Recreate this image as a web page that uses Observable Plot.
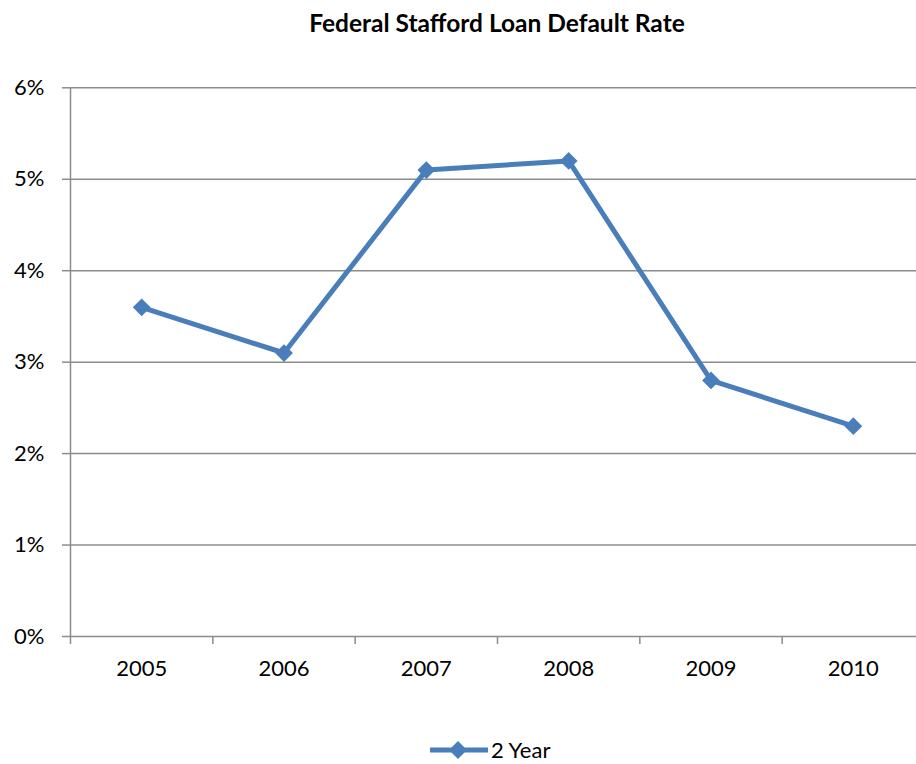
<!DOCTYPE html>
<html>
<head>
<meta charset="utf-8">
<script src="https://cdn.jsdelivr.net/npm/d3@7"></script>
<script src="https://cdn.jsdelivr.net/npm/@observablehq/plot@0.6"></script>
<style>
  html, body { margin: 0; padding: 0; background: #fff; overflow: hidden; }
  #wrap { position: relative; width: 916px; height: 764px; font-family: Lato, "Open Sans", sans-serif; overflow: hidden; }
  #title { position: absolute; left: 297px; top: 0; width: 400px; height: 46px; line-height: 46px; text-align: center; font-weight: bold; font-size: 24.5px; color: #000; white-space: nowrap; }
  #chart { position: absolute; left: 0; top: 46px; }
  #legend { position: absolute; left: 430px; top: 739px; height: 22px; line-height: 22px; display: flex; align-items: center; font-size: 22px; color: #000; }
  #legend svg { margin-right: 3px; }
</style>
</head>
<body>
<div id="wrap">
  <div id="title">Federal Stafford Loan Default Rate</div>
  <div id="chart"></div>
  <div id="legend"></div>
</div>
<script>
const years = [2005, 2006, 2007, 2008, 2009, 2010];
const rates = [0.036, 0.031, 0.051, 0.052, 0.028, 0.023];
const yTicks = [0, 0.01, 0.02, 0.03, 0.04, 0.05, 0.06];
const xBoundaries = [2004.5, 2005.5, 2006.5, 2007.5, 2008.5, 2009.5, 2010.5];
const seriesName = "2 Year";
const lineColor = "#4A7EBB";
const gridColor = "#8c8c8c";

const data = years.map((year, i) => ({year, rate: rates[i]}));

const chart = Plot.plot({
  width: 916,
  height: 660,
  marginTop: 41,
  marginBottom: 70,
  marginLeft: 70,
  marginRight: 0,
  x: {domain: [2004.5, 2010.5], range: [70, 924]},
  y: {domain: [0, 0.06], range: [590, 41.3]},
  style: {fontFamily: "Lato, 'Open Sans', sans-serif", fontSize: "22px", color: "#000", background: "#fff", overflow: "visible"},
  marks: [
    Plot.ruleY(yTicks, {stroke: gridColor, strokeWidth: 1.5}),
    Plot.ruleX([2004.5], {stroke: gridColor, strokeWidth: 1.5}),
    Plot.axisY(yTicks, {tickSize: 8, tickPadding: 18, tickFormat: d3.format(".0%"), stroke: gridColor, strokeWidth: 1.5, fill: "#000", label: null, fontSize: 22}),
    Plot.axisX(xBoundaries, {tickSize: 8, tickFormat: () => "", stroke: gridColor, strokeWidth: 1.5, label: null}),
    Plot.axisX(years, {tickSize: 0, tickPadding: 24, tickFormat: d => String(d), fill: "#000", label: null, fontSize: 22}),
    Plot.line(data, {x: "year", y: "rate", stroke: lineColor, strokeWidth: 5}),
    Plot.dot(data, {x: "year", y: "rate", symbol: "diamond2", r: 8, fill: lineColor, stroke: "none"})
  ]
});
document.getElementById("chart").appendChild(chart);

const legend = document.getElementById("legend");
legend.innerHTML = `<svg width="58" height="22" viewBox="0 0 58 22"><line x1="0" y1="11" x2="58" y2="11" stroke="${lineColor}" stroke-width="5"/><path d="M28,2 L37,11 L28,20 L19,11 Z" fill="${lineColor}"/></svg><span>${seriesName}</span>`;
</script>
</body>
</html>
